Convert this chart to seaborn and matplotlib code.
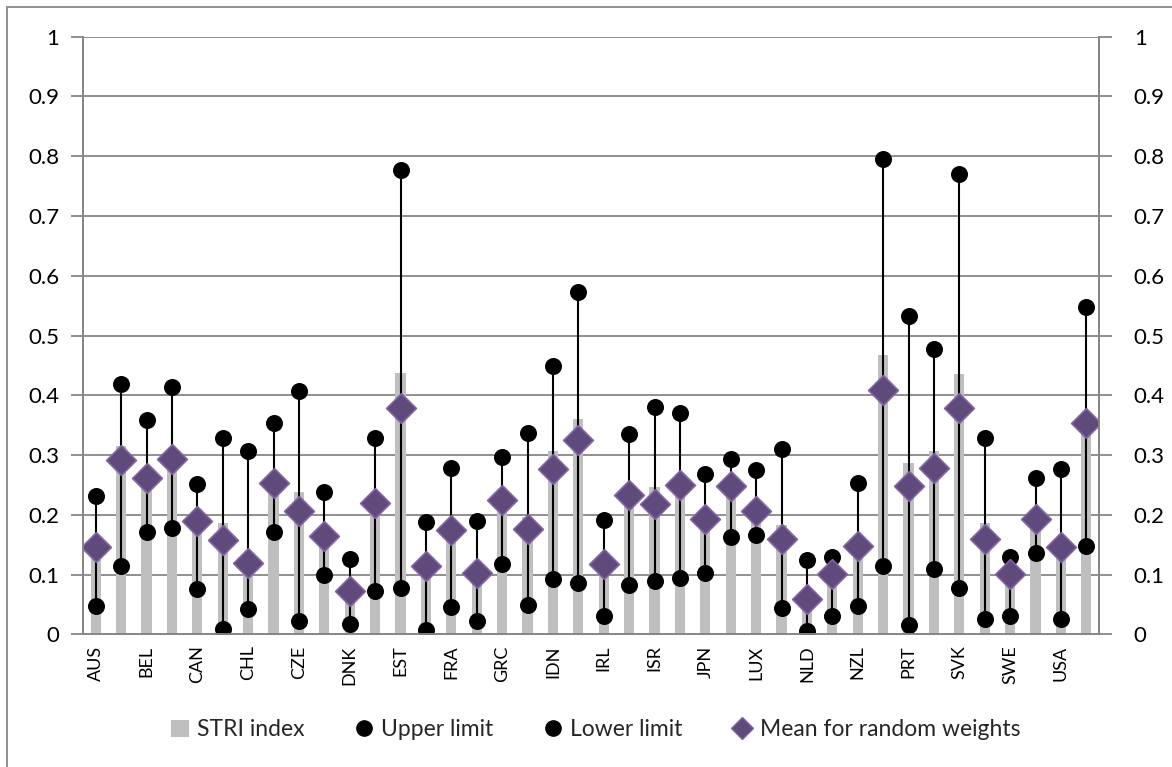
import numpy as np
import pandas as pd
import matplotlib
matplotlib.use("Agg")
import matplotlib.pyplot as plt
import seaborn as sns
from matplotlib.lines import Line2D
from matplotlib.patches import Patch, Rectangle

categories = ["AUS", "AUT", "BEL", "BRA", "CAN", "CHE", "CHL", "CHN", "CZE", "DEU",
              "DNK", "ESP", "EST", "FIN", "FRA", "GBR", "GRC", "HUN", "IDN", "IND",
              "IRL", "ISL", "ISR", "ITA", "JPN", "KOR", "LUX", "MEX", "NLD", "NOR",
              "NZL", "POL", "PRT", "RUS", "SVK", "SVN", "SWE", "TUR", "USA", "ZAF"]

stri_index = [0.140, 0.315, 0.260, 0.290, 0.185, 0.187, 0.110, 0.245, 0.238, 0.160,
              0.070, 0.220, 0.438, 0.110, 0.170, 0.100, 0.210, 0.197, 0.307, 0.361,
              0.110, 0.230, 0.246, 0.268, 0.190, 0.245, 0.205, 0.183, 0.050, 0.100,
              0.140, 0.468, 0.286, 0.307, 0.436, 0.186, 0.100, 0.190, 0.140, 0.350]

upper_limit = [0.232, 0.419, 0.358, 0.414, 0.251, 0.329, 0.306, 0.353, 0.407, 0.238,
               0.126, 0.329, 0.777, 0.188, 0.278, 0.190, 0.297, 0.337, 0.449, 0.573,
               0.191, 0.336, 0.381, 0.370, 0.268, 0.294, 0.275, 0.310, 0.125, 0.129,
               0.254, 0.796, 0.532, 0.477, 0.771, 0.328, 0.129, 0.261, 0.276, 0.547]

lower_limit = [0.047, 0.115, 0.171, 0.178, 0.076, 0.009, 0.042, 0.172, 0.022, 0.100,
               0.018, 0.073, 0.078, 0.007, 0.046, 0.022, 0.117, 0.049, 0.092, 0.086,
               0.030, 0.082, 0.089, 0.094, 0.103, 0.163, 0.167, 0.044, 0.006, 0.030,
               0.047, 0.114, 0.016, 0.110, 0.077, 0.026, 0.030, 0.136, 0.026, 0.148]

mean_random = [0.146, 0.292, 0.262, 0.293, 0.189, 0.158, 0.120, 0.253, 0.207, 0.164,
               0.073, 0.219, 0.378, 0.114, 0.175, 0.103, 0.224, 0.176, 0.277, 0.325,
               0.117, 0.233, 0.218, 0.249, 0.193, 0.248, 0.207, 0.160, 0.059, 0.101,
               0.147, 0.408, 0.248, 0.279, 0.378, 0.160, 0.101, 0.193, 0.146, 0.354]

y_ticks = [0, 0.1, 0.2, 0.3, 0.4, 0.5, 0.6, 0.7, 0.8, 0.9, 1]
y_tick_labels = ["0", "0.1", "0.2", "0.3", "0.4", "0.5", "0.6", "0.7", "0.8", "0.9", "1"]

legend_labels = ["STRI index", "Upper limit", "Lower limit", "Mean for random weights"]

sns.set_theme(style="white")
plt.rcParams["font.family"] = ["Lato", "DejaVu Sans"]

GRID = "#878787"
BAR = "#BFBFBF"
PURPLE = "#604A7B"
PURPLE_EDGE = "#8064A2"

df = pd.DataFrame({
    "pos": np.arange(len(categories)),
    "country": categories,
    "stri": stri_index,
    "upper": upper_limit,
    "lower": lower_limit,
    "mean": mean_random,
})

fig = plt.figure(figsize=(11.72, 7.67), dpi=100)
ax = fig.add_axes([83 / 1172, 1 - 634.3 / 767, (1099 - 83) / 1172, (634.3 - 36.7) / 767])

# gridlines
for t in y_ticks[1:]:
    ax.axhline(t, color=GRID, lw=1.3, zorder=0)

sns.barplot(data=df, x="pos", y="stri", color=BAR, width=0.4, saturation=1,
            native_scale=True, ax=ax, zorder=2, edgecolor="none")

ax.vlines(df["pos"], df["lower"], df["upper"], color="black", lw=1.5, zorder=3)

sns.scatterplot(data=df, x="pos", y="upper", color="black", s=150, marker="o",
                edgecolor="black", linewidth=0, ax=ax, zorder=4)
sns.scatterplot(data=df, x="pos", y="lower", color="black", s=150, marker="o",
                edgecolor="black", linewidth=0, ax=ax, zorder=4)
sns.scatterplot(data=df, x="pos", y="mean", color=PURPLE, s=230, marker="D",
                edgecolor=PURPLE_EDGE, linewidth=1.2, ax=ax, zorder=5)

n = len(categories)
ax.set_xlim(-0.5, n - 0.5)
ax.set_ylim(0, 1)
ax.set_xlabel("")
ax.set_ylabel("")

ax.set_xticks(np.arange(n))
ax.set_xticklabels([c if i % 2 == 0 else "" for i, c in enumerate(categories)],
                   rotation=90, fontsize=13, color="black")
ax.set_xticks(np.arange(n + 1) - 0.5, minor=True)
ax.tick_params(axis="x", which="major", length=0, pad=8)
ax.tick_params(axis="x", which="minor", length=6, width=1.3, color=GRID, direction="out")

ax.set_yticks(y_ticks)
ax.set_yticklabels(y_tick_labels, fontsize=16, color="black")
ax.tick_params(axis="y", length=9, width=1.3, color=GRID, direction="out", left=True, pad=8)

for side in ["top"]:
    ax.spines[side].set_visible(False)
for side in ["left", "right", "bottom"]:
    ax.spines[side].set_visible(True)
    ax.spines[side].set_color(GRID)
    ax.spines[side].set_linewidth(1.3)

ax2 = ax.twinx()
ax2.set_ylim(0, 1)
ax2.set_yticks(y_ticks)
ax2.set_yticklabels(y_tick_labels, fontsize=16, color="black")
ax2.tick_params(axis="y", length=9, width=1.3, color=GRID, direction="out", right=True, pad=16)
ax2.spines["top"].set_visible(False)
for side in ["left", "right", "bottom"]:
    ax2.spines[side].set_color(GRID)
    ax2.spines[side].set_linewidth(1.3)
ax2.grid(False)

handles = [
    Patch(facecolor=BAR, edgecolor="none"),
    Line2D([], [], ls="none", marker="o", color="black", markersize=11),
    Line2D([], [], ls="none", marker="o", color="black", markersize=11),
    Line2D([], [], ls="none", marker="D", markerfacecolor=PURPLE,
           markeredgecolor=PURPLE_EDGE, markersize=11),
]
fig.legend(handles, legend_labels, loc="center", bbox_to_anchor=(0.508, 1 - 730 / 767),
           ncol=4, frameon=False, fontsize=16.5, handlelength=0.8, handleheight=0.8,
           handletextpad=0.35, columnspacing=2.2)

fig.patches.append(Rectangle((7 / 1172, -0.5), 2, 0.5 + (1 - 7 / 767),
                             transform=fig.transFigure, fill=False,
                             edgecolor=GRID, lw=1.3, zorder=10))

fig.savefig("out.png", dpi=100)
